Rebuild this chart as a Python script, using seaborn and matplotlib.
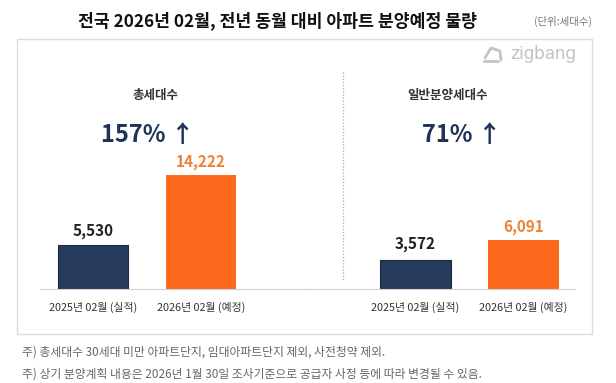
import seaborn as sns
import matplotlib.pyplot as plt
import pandas as pd
from matplotlib.patches import Rectangle
from matplotlib.lines import Line2D

# data
periods = ['2025년 02월 (실적)', '2026년 02월 (예정)']
total_units = [5530, 14222]       # 총세대수
general_units = [3572, 6091]      # 일반분양세대수
panel_titles = ['총세대수', '일반분양세대수']
growth = ['157% ↑', '71% ↑']
notes = ['주) 총세대수 30세대 미만 아파트단지, 임대아파트단지 제외, 사전청약 제외.',
         '주) 상기 분양계획 내용은 2026년 1월 30일 조사기준으로 공급자 사정 등에 따라 변경될 수 있음.']

navy = '#263B5E'
orange = '#FC6A1E'
orange_txt = '#EE8232'

sns.set_style('white')
plt.rcParams['font.family'] = ['Noto Sans CJK KR', 'DejaVu Sans']

W, H = 616, 383
fig = plt.figure(figsize=(W / 100, H / 100), dpi=100)

def fx(x):
    return x / W

def fy(y):
    return 1 - y / H

# outer box
fig.patches.append(Rectangle((fx(17), fy(334)), fx(592 - 17), (334 - 39) / H,
                             transform=fig.transFigure, fill=False,
                             edgecolor='#dcdcdc', linewidth=1))

fig.text(fx(277), fy(21), '전국 2026년 02월, 전년 동월 대비 아파트 분양예정 물량',
         ha='center', va='center', fontsize=12.4, fontweight='bold', color='#111111')
fig.text(fx(563), fy(21), '(단위:세대수)', ha='center', va='center',
         fontsize=7.5, color='#777777')

# zigbang logo
fig.text(fx(543), fy(54), 'zigbang', ha='center', va='center', fontsize=13.5,
         color='#c4c4c4', family=['Roboto', 'DejaVu Sans'])
fig.lines.append(Line2D([fx(485), fx(491), fx(500), fx(501)],
                        [fy(58), fy(48), fy(51), fy(60)],
                        transform=fig.transFigure, color='#c4c4c4', linewidth=2,
                        solid_capstyle='round', solid_joinstyle='round'))
fig.lines.append(Line2D([fx(484), fx(498)], [fy(61), fy(61)],
                        transform=fig.transFigure, color='#c4c4c4', linewidth=2,
                        solid_capstyle='round'))

# divider
fig.lines.append(Line2D([fx(343), fx(343)], [fy(72), fy(280)],
                        transform=fig.transFigure, color='#aaaaaa',
                        linewidth=0.9, linestyle=(0, (1, 1.5))))

base = 289
top = 60
scale = 125  # units per pixel
panels = [
    (total_units, 40, 308, (-0.491, 1.991), 156, 148, (-14, -13)),
    (general_units, 308, 575, (-0.995, 1.477), 448, 462, (-16, -13)),
]

for i, (vals, x0, x1, xlim, tx, gx, offs) in enumerate(panels):
    ax = fig.add_axes([fx(x0), fy(base), fx(x1 - x0), (base - top) / H])
    df = pd.DataFrame({'period': periods, 'units': vals})
    sns.barplot(data=df, x='period', y='units', hue='period',
                palette=[navy, orange], width=0.65, ax=ax, legend=False,
                saturation=1, linewidth=0)
    ax.patches[0].set_edgecolor('#1a2a45')
    ax.patches[0].set_linewidth(0.8)
    ax.set_xlim(*xlim)
    ax.set_ylim(0, (base - top) * scale)
    ax.set_xlabel('')
    ax.set_ylabel('')
    ax.set_yticks([])
    for s in ['top', 'left', 'right']:
        ax.spines[s].set_visible(False)
    ax.spines['bottom'].set_color('#d0d0d0')
    ax.tick_params(axis='x', length=0, pad=9, labelsize=7.8, labelcolor='#333333')
    ax.patch.set_alpha(0)
    for j, v in enumerate(vals):
        ax.text(j, v - offs[j] * scale, f'{v:,}', ha='center', va='center',
                fontsize=11, fontweight='bold',
                color='#222222' if j == 0 else orange_txt)

    fig.text(fx(tx), fy(96), panel_titles[i], ha='center', va='center',
             fontsize=9, fontweight='bold', color='#333333')
    fig.text(fx(gx), fy(135), growth[i], ha='center', va='center',
             fontsize=17, fontweight='bold', color='#1F3258')

fig.text(fx(22), fy(352), notes[0], ha='left', va='center', fontsize=8.5, color='#666666')
fig.text(fx(22), fy(374), notes[1], ha='left', va='center', fontsize=8.5, color='#666666')

fig.savefig('out.png', dpi=100)
